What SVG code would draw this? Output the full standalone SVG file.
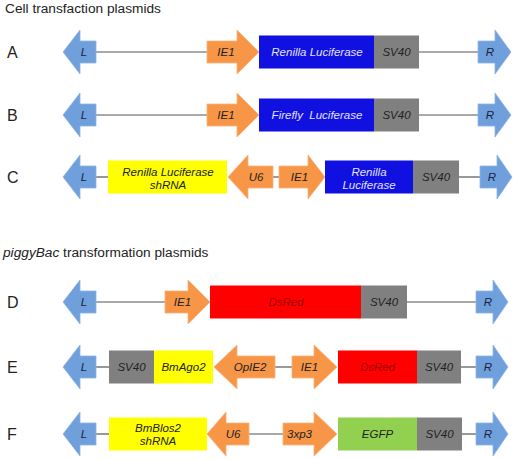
<svg xmlns="http://www.w3.org/2000/svg" width="514" height="460" viewBox="0 0 514 460">
<style>
.t{font-family:"Liberation Sans",Arial,sans-serif}
.h{font-size:13.7px;fill:#222}
.rl{font-size:16px;fill:#222}
.n{font-size:11.5px;font-style:italic;text-anchor:middle}
.ba{fill:#6FA0DC;stroke:#8DB4E6;stroke-width:0.8}
.oa{fill:#F79646;stroke:#F9B27E;stroke-width:0.8}
.bl{fill:#1010E0}
.gr{fill:#808080}
.rd{fill:#FF0000}
.ye{fill:#FFFF00}
.gn{fill:#92D050}
.ln{stroke:#555;stroke-width:1.2;fill:none}
.dk{fill:#1c2340}
.wt{fill:#E2E2FF}
.dr{fill:#A00000}
.gt{fill:#222}
</style>
<rect width="514" height="460" fill="#fff"/>
<text class="t h" x="5" y="13">Cell transfaction plasmids</text>
<text class="t h" x="3" y="257"><tspan font-style="italic">piggyBac</tspan> transformation plasmids</text>

<g id="connectors">
<line class="ln" x1="96" y1="52" x2="207" y2="52"/>
<line class="ln" x1="419" y1="52" x2="478" y2="52"/>
<line class="ln" x1="96" y1="115" x2="207" y2="115"/>
<line class="ln" x1="419" y1="115" x2="478" y2="115"/>
<line class="ln" x1="96" y1="177" x2="108" y2="177"/>
<line class="ln" x1="273" y1="177" x2="279" y2="177"/>
<line class="ln" x1="459" y1="177" x2="480" y2="177"/>
<line class="ln" x1="96" y1="302" x2="165" y2="302"/>
<line class="ln" x1="407" y1="302" x2="476" y2="302"/>
<line class="ln" x1="96" y1="367" x2="109" y2="367"/>
<line class="ln" x1="275" y1="367" x2="292" y2="367"/>
<line class="ln" x1="461" y1="367" x2="476" y2="367"/>
<line class="ln" x1="96" y1="434" x2="109" y2="434"/>
<line class="ln" x1="249" y1="434" x2="283" y2="434"/>
<line class="ln" x1="462" y1="434" x2="476" y2="434"/>
</g>

<!-- Row A -->
<g id="rowA">
<text class="t rl" x="7" y="58">A</text>
<g id="A-L"><polygon class="ba" points="63,52 80,30 80,41 96,41 96,63 80,63 80,74"/><text class="t n dk" x="84" y="56">L</text></g>
<g id="A-IE1"><polygon class="oa" points="207,41 237,41 237,30 259,52 237,74 237,63 207,63"/><text class="t n gt" x="226" y="56">IE1</text></g>
<g id="A-Renilla"><rect class="bl" x="259" y="35.5" width="115" height="33"/><text class="t n wt" x="317" y="56">Renilla Luciferase</text></g>
<g id="A-SV40"><rect class="gr" x="374" y="35.5" width="45" height="33"/><text class="t n gt" x="396.5" y="56">SV40</text></g>
<g id="A-R"><polygon class="ba" points="478,41 495,41 495,30 511,52 495,74 495,63 478,63"/><text class="t n dk" x="490" y="56">R</text></g>
</g>

<!-- Row B -->
<g id="rowB">
<text class="t rl" x="7" y="121">B</text>
<g id="B-L"><polygon class="ba" points="63,115 80,93 80,104 96,104 96,126 80,126 80,137"/><text class="t n dk" x="84" y="119">L</text></g>
<g id="B-IE1"><polygon class="oa" points="207,104 237,104 237,93 259,115 237,137 237,126 207,126"/><text class="t n gt" x="226" y="119">IE1</text></g>
<g id="B-Firefly"><rect class="bl" x="259" y="98.5" width="115" height="33"/><text class="t n wt" x="317" y="119" style="white-space:pre">Firefly  Luciferase</text></g>
<g id="B-SV40"><rect class="gr" x="374" y="98.5" width="45" height="33"/><text class="t n gt" x="396.5" y="119">SV40</text></g>
<g id="B-R"><polygon class="ba" points="478,104 495,104 495,93 511,115 495,137 495,126 478,126"/><text class="t n dk" x="490" y="119">R</text></g>
</g>

<!-- Row C -->
<g id="rowC">
<text class="t rl" x="7" y="183">C</text>
<g id="C-L"><polygon class="ba" points="63,177 80,155 80,166 96,166 96,188 80,188 80,199"/><text class="t n dk" x="84" y="181">L</text></g>
<g id="C-shRNA"><rect class="ye" x="108" y="160.5" width="119" height="33"/><text class="t n gt" x="168" y="175.5">Renilla Luciferase</text><text class="t n gt" x="168" y="188.5">shRNA</text></g>
<g id="C-U6"><polygon class="oa" points="228,177 248,155 248,166 273,166 273,188 248,188 248,199"/><text class="t n gt" x="256" y="181">U6</text></g>
<g id="C-IE1"><polygon class="oa" points="279,166 308,166 308,155 325,177 308,199 308,188 279,188"/><text class="t n gt" x="299.5" y="181">IE1</text></g>
<g id="C-Renilla"><rect class="bl" x="325" y="160.5" width="88" height="33"/><text class="t n wt" x="369" y="175.5">Renilla</text><text class="t n wt" x="369" y="188.5">Luciferase</text></g>
<g id="C-SV40"><rect class="gr" x="413" y="160.5" width="46" height="33"/><text class="t n gt" x="436" y="181">SV40</text></g>
<g id="C-R"><polygon class="ba" points="480,166 497,166 497,155 512,177 497,199 497,188 480,188"/><text class="t n dk" x="492" y="181">R</text></g>
</g>

<!-- Row D -->
<g id="rowD">
<text class="t rl" x="7" y="308">D</text>
<g id="D-L"><polygon class="ba" points="63,302 80,280 80,291 96,291 96,313 80,313 80,324"/><text class="t n dk" x="84" y="306">L</text></g>
<g id="D-IE1"><polygon class="oa" points="165,291 188,291 188,280 210,302 188,324 188,313 165,313"/><text class="t n gt" x="182.5" y="306">IE1</text></g>
<g id="D-DsRed"><rect class="rd" x="210" y="285.5" width="151" height="33"/><text class="t n dr" x="286" y="306">DsRed</text></g>
<g id="D-SV40"><rect class="gr" x="361" y="285.5" width="46" height="33"/><text class="t n gt" x="384" y="306">SV40</text></g>
<g id="D-R"><polygon class="ba" points="476,291 493,291 493,280 508,302 493,324 493,313 476,313"/><text class="t n dk" x="488" y="306">R</text></g>
</g>

<!-- Row E -->
<g id="rowE">
<text class="t rl" x="7" y="373">E</text>
<g id="E-L"><polygon class="ba" points="63,367 80,345 80,356 96,356 96,378 80,378 80,389"/><text class="t n dk" x="84" y="371">L</text></g>
<g id="E-SV40a"><rect class="gr" x="109" y="350.5" width="45" height="33"/><text class="t n gt" x="131.5" y="371">SV40</text></g>
<g id="E-BmAgo2"><rect class="ye" x="154" y="350.5" width="59" height="33"/><text class="t n gt" x="183.5" y="371">BmAgo2</text></g>
<g id="E-OpIE2"><polygon class="oa" points="214,367 237,345 237,356 275,356 275,378 237,378 237,389"/><text class="t n gt" x="250" y="371">OpIE2</text></g>
<g id="E-IE1"><polygon class="oa" points="292,356 314,356 314,345 337,367 314,389 314,378 292,378"/><text class="t n gt" x="309.5" y="371">IE1</text></g>
<g id="E-DsRed"><rect class="rd" x="338" y="350.5" width="79" height="33"/><text class="t n dr" x="377.5" y="371">DsRed</text></g>
<g id="E-SV40b"><rect class="gr" x="417" y="350.5" width="44" height="33"/><text class="t n gt" x="439" y="371">SV40</text></g>
<g id="E-R"><polygon class="ba" points="476,356 493,356 493,345 508,367 493,389 493,378 476,378"/><text class="t n dk" x="488" y="371">R</text></g>
</g>

<!-- Row F -->
<g id="rowF">
<text class="t rl" x="7" y="440">F</text>
<g id="F-L"><polygon class="ba" points="63,434 80,412 80,423 96,423 96,445 80,445 80,456"/><text class="t n dk" x="84" y="438">L</text></g>
<g id="F-shRNA"><rect class="ye" x="109" y="417.5" width="98" height="33"/><text class="t n gt" x="158" y="431.5">BmBlos2</text><text class="t n gt" x="158" y="444.5">shRNA</text></g>
<g id="F-U6"><polygon class="oa" points="207,434 226,412 226,423 249,423 249,445 226,445 226,456"/><text class="t n gt" x="233" y="438">U6</text></g>
<g id="F-3xp3"><polygon class="oa" points="283,423 314,423 314,412 337,434 314,456 314,445 283,445"/><text class="t n gt" x="299.5" y="438">3xp3</text></g>
<g id="F-EGFP"><rect class="gn" x="338" y="417.5" width="79" height="33"/><text class="t n gt" x="377.5" y="438">EGFP</text></g>
<g id="F-SV40"><rect class="gr" x="417" y="417.5" width="45" height="33"/><text class="t n gt" x="439.5" y="438">SV40</text></g>
<g id="F-R"><polygon class="ba" points="476,423 493,423 493,412 508,434 493,456 493,445 476,445"/><text class="t n dk" x="488" y="438">R</text></g>
</g>
</svg>
